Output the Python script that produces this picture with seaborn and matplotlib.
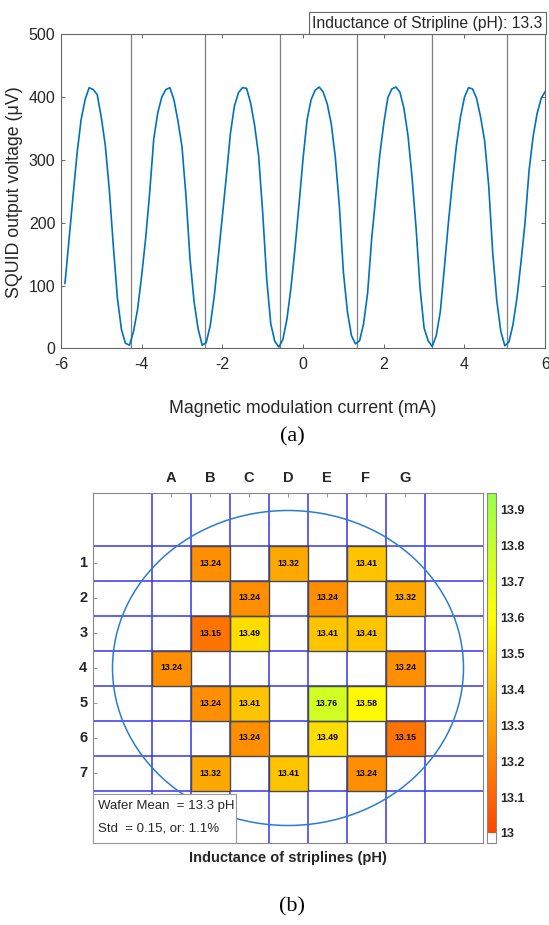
import numpy as np
import pandas as pd
import matplotlib
matplotlib.use("Agg")
import matplotlib.pyplot as plt
import seaborn as sns
from matplotlib.colors import LinearSegmentedColormap, ListedColormap
from matplotlib.patches import Circle, Rectangle

# ---- panel (a): SQUID voltage vs modulation current ----
current_ma = np.linspace(-5.9, 6.0, 120)
voltage_uv = [
    103, 172, 242, 310, 364, 396, 415, 412, 404, 368,
    323, 252, 162, 80, 30, 8, 5, 27, 62, 115,
    175, 248, 333, 375, 400, 412, 415, 396, 362, 321,
    242, 142, 74, 31, 5, 9, 36, 83, 146, 210,
    274, 342, 386, 407, 415, 414, 391, 355, 306, 216,
    110, 39, 11, 2, 14, 46, 96, 159, 229, 302,
    364, 396, 411, 416, 408, 389, 357, 304, 226, 121,
    58, 20, 7, 12, 39, 88, 174, 241, 307, 358,
    399, 413, 416, 408, 382, 339, 273, 192, 95, 32,
    12, 3, 20, 58, 127, 199, 264, 323, 368, 400,
    415, 413, 398, 368, 330, 259, 152, 76, 27, 4,
    10, 37, 80, 137, 200, 283, 337, 374, 398, 409,
]
minima_ma = [-4.27, -2.43, -0.575, 1.34, 3.20, 5.05]
stripline_ph = 13.3

# ---- panel (b): wafer map of stripline inductance ----
col_labels = ["A", "B", "C", "D", "E", "F", "G"]
row_labels = ["1", "2", "3", "4", "5", "6", "7"]
nan = np.nan
inductance = [
    [nan, 13.24, nan, 13.32, nan, 13.41, nan],
    [nan, nan, 13.24, nan, 13.24, nan, 13.32],
    [nan, 13.15, 13.49, nan, 13.41, 13.41, nan],
    [13.24, nan, nan, nan, nan, nan, 13.24],
    [nan, 13.24, 13.41, nan, 13.76, 13.58, nan],
    [nan, nan, 13.24, nan, 13.49, nan, 13.15],
    [nan, 13.32, nan, 13.41, nan, 13.24, nan],
]
wafer_mean = 13.3
wafer_std = 0.15
wafer_pct = 1.1
cbar_ticks = [13.0, 13.1, 13.2, 13.3, 13.4, 13.5, 13.6, 13.7, 13.8, 13.9]

sns.set_style("ticks")
plt.rcParams["font.family"] = ["Liberation Sans", "DejaVu Sans"]
plt.rcParams["axes.unicode_minus"] = False

W, H = 549, 925
fig = plt.figure(figsize=(W / 100, H / 100), dpi=100)
dark = "#262626"

# panel (a)
ax1 = fig.add_axes([60.9 / W, 1 - 348.3 / H, (545.2 - 60.9) / W, (348.3 - 34.3) / H])
for m in minima_ma:
    ax1.axvline(m, color="#808080", lw=0.9, zorder=1)
sns.lineplot(x=current_ma, y=voltage_uv, ax=ax1, color="#0072BD", lw=1.2, zorder=3)
ax1.set_xlim(-6, 6)
ax1.set_ylim(0, 500)
ax1.set_xticks(np.arange(-6, 7, 2))
ax1.set_yticks(np.arange(0, 501, 100))
ax1.tick_params(direction="in", top=True, right=True, length=3, width=0.6,
                labelsize=11.5, colors="#555555", labelcolor=dark)
ax1.tick_params(axis="x", pad=6)
ax1.tick_params(axis="y", pad=4)
for s in ax1.spines.values():
    s.set_color("#666666")
    s.set_linewidth(0.8)
fig.text(15 / W, 1 - 192 / H, "SQUID output voltage (μV)", rotation=90,
         ha="center", va="center", fontsize=12.8, color=dark)
fig.text(303 / W, 1 - 409 / H, "Magnetic modulation current (mA)",
         ha="center", va="center", fontsize=12.8, color=dark)
fig.text(292 / W, 1 - 437 / H, "(a)", ha="center", va="center", fontsize=16,
         family=["Liberation Serif", "DejaVu Serif"], color="black")
ax1.text(0.995, 1.012, f"Inductance of Stripline (pH): {stripline_ph}",
         transform=ax1.transAxes, ha="right", va="bottom", fontsize=11.3, color=dark,
         bbox=dict(boxstyle="square,pad=0.22", fc="white", ec="#666666", lw=0.8))

# panel (b)
df = pd.DataFrame(inductance, index=row_labels, columns=col_labels)
vmin, vmax = 12.972, 13.947
base = LinearSegmentedColormap.from_list(
    "wafer", [(0.0, (1.0, 0.27, 0.0)), (0.6 / 0.947, (1.0, 1.0, 0.0)), (1.0, (0.6, 1.0, 0.3))])
n = 300
levels = vmin + (np.arange(n) + 0.5) * (vmax - vmin) / n
cols = [(1, 1, 1, 1) if v < 13.0 else base((v - 13.0) / 0.947) for v in levels]
cmap = ListedColormap(cols)

ax2 = fig.add_axes([93 / W, 1 - 843 / H, 390 / W, 350 / H])
cax = fig.add_axes([487 / W, 1 - 843 / H, 9 / W, 350 / H])

for k in range(len(col_labels) + 1):
    ax2.axvline(k, color="#3535f0", lw=1.1, zorder=1)
for k in range(len(row_labels) + 1):
    ax2.axhline(k, color="#3535f0", lw=1.1, zorder=1)

sns.heatmap(df, ax=ax2, cmap=cmap, vmin=vmin, vmax=vmax, cbar_ax=cax,
            annot=True, fmt=".2f",
            annot_kws=dict(fontsize=6.3, fontweight="bold", color="black"))
ax2.collections[0].set_zorder(2)
for t in ax2.texts:
    t.set_zorder(5)
for i in range(len(row_labels)):
    for j in range(len(col_labels)):
        if not np.isnan(inductance[i][j]):
            ax2.add_patch(Rectangle((j, i), 1, 1, fill=False, ec="#4a4a4a", lw=1.0, zorder=3))

ax2.add_patch(Circle((3.5, 3.5), 4.5, fill=False, ec="#2b7cd3", lw=1.1, zorder=4))

ax2.set_xlim(-1.5, 8.5)
ax2.set_ylim(8.5, -1.5)
ax2.set_axis_on()
ax2.xaxis.tick_top()
ax2.set_xticks(np.arange(len(col_labels)) + 0.5)
ax2.set_xticklabels(col_labels, rotation=0)
ax2.set_yticks(np.arange(len(row_labels)) + 0.5)
ax2.set_yticklabels(row_labels, rotation=0)
ax2.tick_params(direction="in", length=3, width=0.6, colors="#888888",
                labelcolor=dark, labelsize=10.5, top=True, bottom=False, left=True)
ax2.tick_params(axis="x", pad=6)
ax2.tick_params(axis="y", pad=4)
for lab in ax2.get_xticklabels() + ax2.get_yticklabels():
    lab.set_fontweight("bold")
ax2.set_xlabel("")
ax2.set_ylabel("")
for s in ax2.spines.values():
    s.set_visible(True)
    s.set_color("#888888")
    s.set_linewidth(0.8)

ax2.add_patch(Rectangle((0, 0), 143 / 390, 49 / 350, transform=ax2.transAxes,
                        fc="white", ec="#999999", lw=0.8, zorder=6, clip_on=False))
ax2.text(0.013, 37 / 350, f"Wafer Mean  = {wafer_mean} pH", transform=ax2.transAxes,
         ha="left", va="center", fontsize=9.5, color=dark, zorder=7)
ax2.text(0.013, 14.5 / 350, f"Std  = {wafer_std}, or: {wafer_pct}%", transform=ax2.transAxes,
         ha="left", va="center", fontsize=9.5, color=dark, zorder=7)

cbar = ax2.collections[0].colorbar
cbar.set_ticks(cbar_ticks)
cbar.set_ticklabels(["13"] + [f"{v:.1f}" for v in cbar_ticks[1:]])
cax.tick_params(direction="in", length=2, width=0.6, colors="#666666",
                labelcolor=dark, labelsize=9, pad=3)
for lab in cax.get_yticklabels():
    lab.set_fontweight("bold")
cbar.outline.set_edgecolor("#888888")
cbar.outline.set_linewidth(0.8)

fig.text(288 / W, 1 - 858 / H, "Inductance of striplines (pH)", ha="center", va="center",
         fontsize=10.5, fontweight="bold", color=dark)
fig.text(292 / W, 1 - 907 / H, "(b)", ha="center", va="center", fontsize=16,
         family=["Liberation Serif", "DejaVu Serif"], color="black")

fig.savefig("out.png", dpi=100)
